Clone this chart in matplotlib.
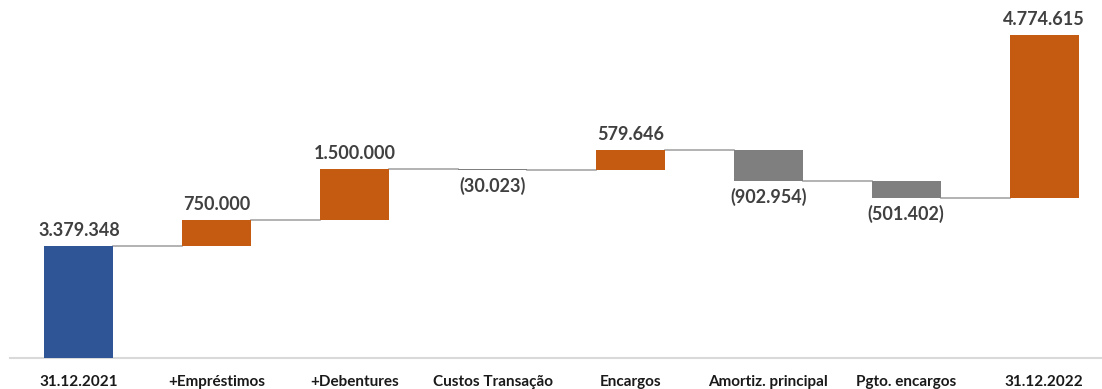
import numpy as np
import matplotlib.pyplot as plt

categories = ["31.12.2021", "+Empréstimos", "+Debentures", "Custos Transação",
              "Encargos", "Amortiz. principal", "Pgto. encargos", "31.12.2022"]
values = [3379348, 750000, 1500000, -30023, 579646, -902954, -501402, 4774615]
bar_colors = ["#2F5597", "#C55A11", "#C55A11", "#7F7F7F",
              "#C55A11", "#7F7F7F", "#7F7F7F", "#C55A11"]

def fmt(v):
    s = "{:,}".format(abs(v)).replace(",", ".")
    return "(" + s + ")" if v < 0 else s

# waterfall: every bar starts on the running total (the last one too, as in the source)
bottoms = []
level = 0
for i, v in enumerate(values):
    bottoms.append(level)
    if i < len(values) - 1:
        level += v
bottoms = np.array(bottoms, dtype=float)
vals = np.array(values, dtype=float)
base = np.where(vals >= 0, bottoms, bottoms + vals)
heights = np.abs(vals)

fig = plt.figure(figsize=(11.02, 3.89), dpi=100)
ax = fig.add_axes([10 / 1102, 1 - 358 / 389, 1092 / 1102, 358 / 389])
x = np.arange(len(categories))
w = 0.5
ax.bar(x, heights, bottom=base, width=w, color=bar_colors, zorder=3)

# connectors
for i in range(len(values) - 1):
    lvl = bottoms[i] + vals[i]
    ax.plot([x[i] + w / 2, x[i + 1] - w / 2], [lvl, lvl], color="#A6A6A6", lw=1.2, zorder=2)

for i, v in enumerate(values):
    if v >= 0:
        ax.text(x[i], base[i] + heights[i] + 0.2e6, fmt(v), ha="center", va="bottom",
                fontsize=13, fontweight="bold", color="#404040", family="Lato")
    else:
        ax.text(x[i], base[i] - 0.2e6, fmt(v), ha="center", va="top",
                fontsize=13, fontweight="bold", color="#404040", family="Lato")

ax.set_xlim(-0.5, 7.42)
ax.set_ylim(0.105e6, 10.57e6)
ax.set_xticks(x)
ax.set_xticklabels(categories, fontsize=11, fontweight="bold", family="Lato", color="#1a1a1a")
ax.tick_params(axis="x", length=0, pad=12)
ax.set_yticks([])
for s in ["top", "right", "left"]:
    ax.spines[s].set_visible(False)
ax.spines["bottom"].set_color("#D9D9D9")
ax.spines["bottom"].set_linewidth(1.5)

fig.savefig("out.png", dpi=100)
